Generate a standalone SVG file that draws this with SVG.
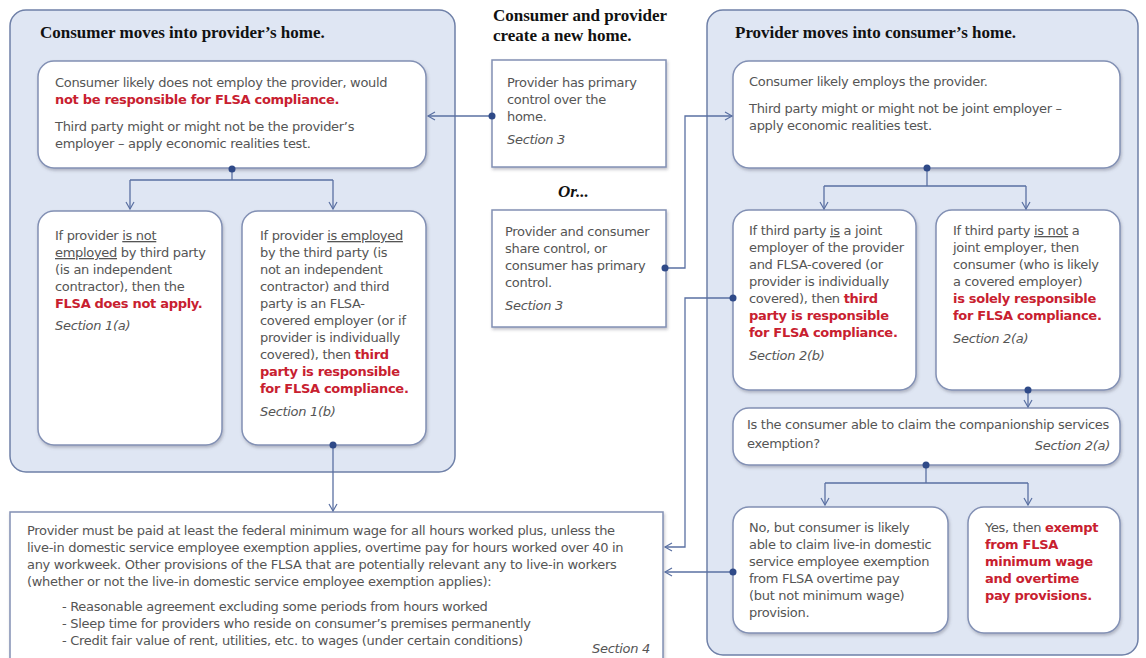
<svg xmlns="http://www.w3.org/2000/svg" width="1146" height="658" viewBox="0 0 1146 658">
<style>
.panel{fill:#dfe6f3;stroke:#6f80a8;stroke-width:1.5}
.box{fill:#ffffff;stroke:#8290b4;stroke-width:1.5;filter:url(#sh)}
.title{font-family:"Liberation Serif",serif;font-weight:bold;font-size:17px;fill:#111}
.t{font-family:"DejaVu Sans",Verdana,sans-serif;font-size:13px;fill:#555;letter-spacing:-0.3px}
.r{fill:#c8202f;font-weight:bold}
.i{font-style:italic}
.u{text-decoration:underline}
.c{fill:none;stroke:#5a70a2;stroke-width:1.3}
.dot{fill:#2f4a88}
</style>
<defs>
<filter id="sh" x="-5%" y="-5%" width="110%" height="115%">
<feDropShadow dx="1" dy="2" stdDeviation="1.5" flood-color="#556" flood-opacity="0.35"/>
</filter>
<marker id="a" markerWidth="10" markerHeight="10" refX="8" refY="5" orient="auto" markerUnits="userSpaceOnUse">
<path d="M1,1 L8,5 L1,9" fill="none" stroke="#5a70a2" stroke-width="1.2"/>
</marker>
</defs>

<g id="panel-left">
<rect class="panel" x="10" y="10" width="445" height="462" rx="16"/>
<text class="title" x="40" y="38">Consumer moves into provider’s home.</text>
</g>
<g id="panel-right">
<rect class="panel" x="707" y="10" width="431" height="645" rx="16"/>
<text class="title" x="735" y="38">Provider moves into consumer’s home.</text>
</g>
<g id="middle-title">
<text class="title" x="493" y="21">Consumer and provider</text>
<text class="title" x="493" y="41">create a new home.</text>
<text class="title i" x="558" y="197">Or...</text>
</g>

<g id="box-a">
<rect class="box" x="38" y="61" width="388" height="107" rx="16"/>
<text class="t" x="55" y="87">Consumer likely does not employ the provider, would</text>
<text class="t r" x="55" y="104">not be responsible for FLSA compliance.</text>
<text class="t" x="55" y="131">Third party might or might not be the provider’s</text>
<text class="t" x="55" y="148">employer – apply economic realities test.</text>
</g>

<g id="box-b">
<rect class="box" x="38" y="211" width="184" height="234" rx="16"/>
<text class="t" x="55" y="240">If provider <tspan class="u">is not</tspan></text>
<text class="t" x="55" y="257"><tspan class="u">employed</tspan> by third party</text>
<text class="t" x="55" y="274">(is an independent</text>
<text class="t" x="55" y="291">contractor), then the</text>
<text class="t r" x="55" y="308">FLSA does not apply.</text>
<text class="t i" x="55" y="330">Section 1(a)</text>
</g>

<g id="box-c">
<rect class="box" x="242" y="211" width="184" height="234" rx="16"/>
<text class="t" x="260" y="240">If provider <tspan class="u">is employed</tspan></text>
<text class="t" x="260" y="257">by the third party (is</text>
<text class="t" x="260" y="274">not an independent</text>
<text class="t" x="260" y="291">contractor) and third</text>
<text class="t" x="260" y="308">party is an FLSA-</text>
<text class="t" x="260" y="325">covered employer (or if</text>
<text class="t" x="260" y="342">provider is individually</text>
<text class="t" x="260" y="359">covered), then <tspan class="r">third</tspan></text>
<text class="t r" x="260" y="376">party is responsible</text>
<text class="t r" x="260" y="393">for FLSA compliance.</text>
<text class="t i" x="260" y="416">Section 1(b)</text>
</g>

<g id="box-m1">
<rect class="box" x="492" y="60" width="174" height="107"/>
<text class="t" x="507" y="87">Provider has primary</text>
<text class="t" x="507" y="104">control over the</text>
<text class="t" x="507" y="121">home.</text>
<text class="t i" x="507" y="144">Section 3</text>
</g>

<g id="box-m2">
<rect class="box" x="492" y="210" width="174" height="117"/>
<text class="t" x="505" y="236">Provider and consumer</text>
<text class="t" x="505" y="253">share control, or</text>
<text class="t" x="505" y="270">consumer has primary</text>
<text class="t" x="505" y="287">control.</text>
<text class="t i" x="505" y="310">Section 3</text>
</g>

<g id="box-r1">
<rect class="box" x="733" y="61" width="387" height="107" rx="16"/>
<text class="t" x="749" y="86">Consumer likely employs the provider.</text>
<text class="t" x="749" y="113">Third party might or might not be joint employer –</text>
<text class="t" x="749" y="130">apply economic realities test.</text>
</g>

<g id="box-r2">
<rect class="box" x="733" y="210" width="183" height="180" rx="16"/>
<text class="t" x="749" y="235">If third party <tspan class="u">is</tspan> a joint</text>
<text class="t" x="749" y="252">employer of the provider</text>
<text class="t" x="749" y="269">and FLSA-covered (or</text>
<text class="t" x="749" y="286">provider is individually</text>
<text class="t" x="749" y="303">covered), then <tspan class="r">third</tspan></text>
<text class="t r" x="749" y="320">party is responsible</text>
<text class="t r" x="749" y="337">for FLSA compliance.</text>
<text class="t i" x="749" y="360">Section 2(b)</text>
</g>

<g id="box-r3">
<rect class="box" x="936" y="210" width="184" height="180" rx="16"/>
<text class="t" x="953" y="235">If third party <tspan class="u">is not</tspan> a</text>
<text class="t" x="953" y="252">joint employer, then</text>
<text class="t" x="953" y="269">consumer (who is likely</text>
<text class="t" x="953" y="286">a covered employer)</text>
<text class="t r" x="953" y="303">is solely responsible</text>
<text class="t r" x="953" y="320">for FLSA compliance.</text>
<text class="t i" x="953" y="343">Section 2(a)</text>
</g>

<g id="box-r4">
<rect class="box" x="733" y="408" width="387" height="57" rx="16"/>
<text class="t" x="747" y="429">Is the consumer able to claim the companionship services</text>
<text class="t" x="747" y="448">exemption?</text>
<text class="t i" x="1110" y="450" text-anchor="end">Section 2(a)</text>
</g>

<g id="box-r5">
<rect class="box" x="733" y="507" width="215" height="126" rx="16"/>
<text class="t" x="749" y="532">No, but consumer is likely</text>
<text class="t" x="749" y="549">able to claim live-in domestic</text>
<text class="t" x="749" y="566">service employee exemption</text>
<text class="t" x="749" y="583">from FLSA overtime pay</text>
<text class="t" x="749" y="600">(but not minimum wage)</text>
<text class="t" x="749" y="617">provision.</text>
</g>

<g id="box-r6">
<rect class="box" x="968" y="507" width="152" height="126" rx="16"/>
<text class="t" x="985" y="532">Yes, then <tspan class="r">exempt</tspan></text>
<text class="t r" x="985" y="549">from FLSA</text>
<text class="t r" x="985" y="566">minimum wage</text>
<text class="t r" x="985" y="583">and overtime</text>
<text class="t r" x="985" y="600">pay provisions.</text>
</g>

<g id="box-bottom">
<rect class="box" x="10" y="512" width="653" height="150"/>
<text class="t" x="27" y="535">Provider must be paid at least the federal minimum wage for all hours worked plus, unless the</text>
<text class="t" x="27" y="552">live-in domestic service employee exemption applies, overtime pay for hours worked over 40 in</text>
<text class="t" x="27" y="569">any workweek. Other provisions of the FLSA that are potentially relevant any to live-in workers</text>
<text class="t" x="27" y="586">(whether or not the live-in domestic service employee exemption applies):</text>
<text class="t" x="62" y="611">- Reasonable agreement excluding some periods from hours worked</text>
<text class="t" x="62" y="628">- Sleep time for providers who reside on consumer’s premises permanently</text>
<text class="t" x="62" y="645">- Credit fair value of rent, utilities, etc. to wages (under certain conditions)</text>
<text class="t i" x="650" y="653" text-anchor="end">Section 4</text>
</g>

<g id="connectors">
<path class="c" d="M492,116 H428" marker-end="url(#a)"/>
<path class="c" d="M665,268 H685 V116 H732" marker-end="url(#a)"/>
<path class="c" d="M232,169 V180 M130,180 H333 M130,180 V209" marker-end="url(#a)"/>
<path class="c" d="M333,180 V209" marker-end="url(#a)"/>
<path class="c" d="M333,445 V511" marker-end="url(#a)"/>
<path class="c" d="M927,168 V186 M824,186 H1026 M824,186 V209" marker-end="url(#a)"/>
<path class="c" d="M1026,186 V209" marker-end="url(#a)"/>
<path class="c" d="M1028,390 V407" marker-end="url(#a)"/>
<path class="c" d="M926,465 V483 M825,483 H1028 M825,483 V505" marker-end="url(#a)"/>
<path class="c" d="M1028,483 V505" marker-end="url(#a)"/>
<path class="c" d="M733,298 H685 V547 H665" marker-end="url(#a)"/>
<path class="c" d="M733,572 H665" marker-end="url(#a)"/>
<circle class="dot" cx="492" cy="116" r="3.5"/>
<circle class="dot" cx="665" cy="268" r="3.5"/>
<circle class="dot" cx="232" cy="169" r="3.5"/>
<circle class="dot" cx="333" cy="445" r="3.5"/>
<circle class="dot" cx="927" cy="168" r="3.5"/>
<circle class="dot" cx="1028" cy="390" r="3.5"/>
<circle class="dot" cx="926" cy="465" r="3.5"/>
<circle class="dot" cx="733" cy="298" r="3.5"/>
<circle class="dot" cx="733" cy="572" r="3.5"/>
</g>
</svg>
